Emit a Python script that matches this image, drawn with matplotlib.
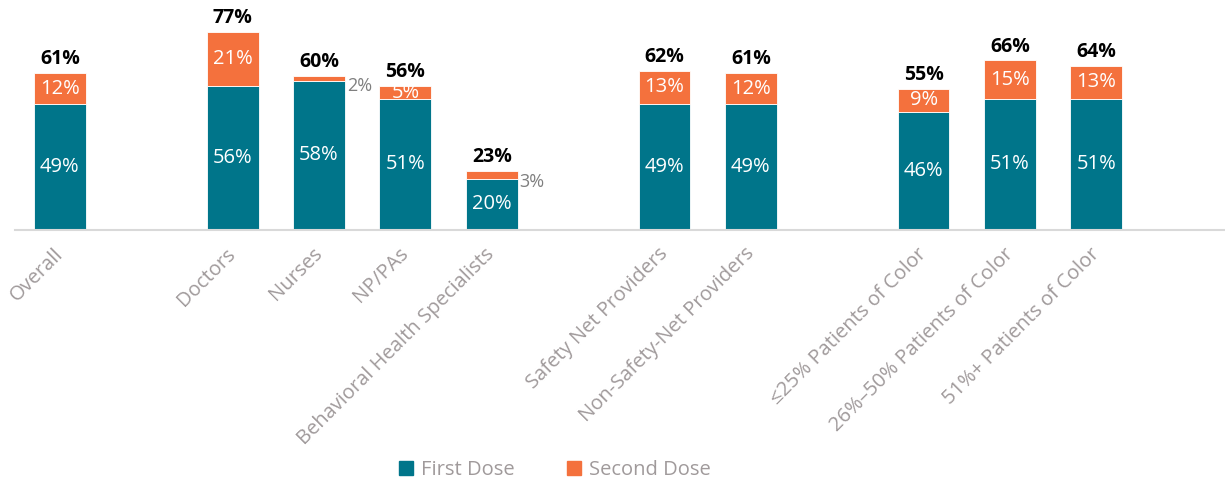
import matplotlib
matplotlib.use("Agg")
import matplotlib.pyplot as plt
from matplotlib.patches import Patch
from matplotlib.transforms import ScaledTranslation

plt.rcParams['font.family'] = ['Open Sans', 'DejaVu Sans']

categories = ["Overall", "Doctors", "Nurses", "NP/PAs", "Behavioral Health Specialists",
              "Safety Net Providers", "Non-Safety-Net Providers",
              "≤25% Patients of Color", "26%–50% Patients of Color", "51%+ Patients of Color"]
slots = [0, 2, 3, 4, 5, 7, 8, 10, 11, 12]
first_dose = [49, 56, 58, 51, 20, 49, 49, 46, 51, 51]
second_dose = [12, 21, 2, 5, 3, 13, 12, 9, 15, 13]
totals = [61, 77, 60, 56, 23, 62, 61, 55, 66, 64]
outside_second = [False, False, True, False, True, False, False, False, False, False]

TEAL = "#00758A"
ORANGE = "#F4713D"
GRAY = "#A09A9B"

fig = plt.figure(figsize=(12.25, 4.84), dpi=100)
ax = fig.add_axes([15/1225, (484-230)/484, 1210/1225, 230/484])

w = 0.6
ax.bar(slots, first_dose, width=w, color=TEAL, edgecolor="white", linewidth=0.6)
ax.bar(slots, second_dose, bottom=first_dose, width=w, color=ORANGE, edgecolor="white", linewidth=0.6)

for x, f, s, t, out in zip(slots, first_dose, second_dose, totals, outside_second):
    ax.text(x, f/2, f"{f}%", ha="center", va="center", color="white", fontsize=14.5)
    if out:
        ax.text(x + w/2 + 0.02, f + s/2 - 3, f"{s}%", ha="left", va="center", color="#7F7F7F", fontsize=13)
    else:
        ax.text(x, f + s/2, f"{s}%", ha="center", va="center", color="white", fontsize=14.5)
    ax.text(x, f + s + 1.5, f"{t}%", ha="center", va="bottom", color="black", fontsize=14, fontweight="bold")

ax.set_xlim(-0.52, 13.49)
ax.set_ylim(0, 230/2.57)
ax.set_xticks(slots)
ax.set_xticklabels(categories, rotation=45, ha="right", rotation_mode="anchor",
                   color=GRAY, fontsize=14.5)
ax.tick_params(axis="x", length=0, pad=10)
shift = ScaledTranslation(-7/100, 0, fig.dpi_scale_trans)
for lab in ax.get_xticklabels():
    lab.set_transform(lab.get_transform() + shift)
ax.set_yticks([])
for sp in ["top", "right", "left"]:
    ax.spines[sp].set_visible(False)
ax.spines["bottom"].set_color("#D9D9D9")
ax.spines["bottom"].set_linewidth(1.5)

handles = [Patch(color=TEAL, label="First Dose"), Patch(color=ORANGE, label="Second Dose")]
fig.legend(handles=handles, loc="center", bbox_to_anchor=(555/1225, 1 - 470/484), ncol=2,
           frameon=False, fontsize=14.5, labelcolor=GRAY, handlelength=0.7, handleheight=0.7,
           handletextpad=0.4, columnspacing=2.6)

fig.savefig("out.png", dpi=100)
